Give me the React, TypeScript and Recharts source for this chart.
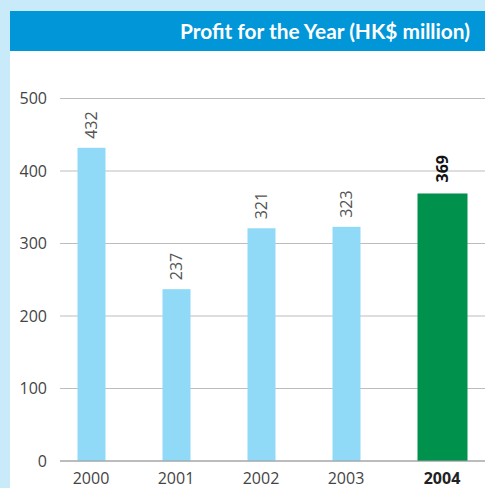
import { BarChart, Bar, XAxis, YAxis, CartesianGrid, Cell, LabelList } from "recharts";

const years = ["2000", "2001", "2002", "2003", "2004"];
const profits = [432, 237, 321, 323, 369];
const yTicks = [0, 100, 200, 300, 400, 500];
const highlightYear = "2004";

const data = years.map((year, i) => ({ year, profit: profits[i] }));

const FONT = "'Open Sans', Lato, sans-serif";
const SHIFT = 11;

function BarShape(props: any) {
  const { x, y, width, height, payload } = props;
  const hl = payload.year === highlightYear;
  const w = hl ? 50 : width;
  const cx = x + width / 2 + (hl ? SHIFT : 0);
  return <rect x={cx - w / 2} y={y} width={w} height={height} fill={hl ? "#00914d" : "#90d9f7"} />;
}

function ValueLabel(props: any) {
  const { x, y, width, value, index } = props;
  const hl = years[index] === highlightYear;
  const cx = x + width / 2 + (hl ? SHIFT : 0);
  const ty = y - (hl ? 11 : 9);
  return (
    <text
      x={cx}
      y={ty}
      transform={`rotate(-90 ${cx} ${ty})`}
      textAnchor="start"
      dominantBaseline="central"
      fontFamily={FONT}
      fontSize={16}
      fontWeight={hl ? 700 : 400}
      fill={hl ? "#111" : "#555"}
    >
      {value}
    </text>
  );
}

function YearTick(props: any) {
  const { x, y, payload } = props;
  const hl = payload.value === highlightYear;
  return (
    <text
      x={x + (hl ? SHIFT : 0)}
      y={y + 15}
      textAnchor="middle"
      fontFamily={FONT}
      fontSize={16}
      fontWeight={hl ? 700 : 400}
      fill={hl ? "#222" : "#444"}
    >
      {payload.value}
    </text>
  );
}

export default function App() {
  return (
    <div style={{ position: "fixed", left: 0, top: 0, width: 485, height: 488, background: "#c8eaf9", overflow: "hidden" }}>
      <div style={{ position: "absolute", left: 10, top: 11, width: 475, height: 477, background: "#fff" }} />
      <div style={{ position: "absolute", left: 10, top: 11, width: 475, height: 40, background: "#0096d8" }}>
        <svg width={475} height={40}>
          <text
            x={460}
            y={28}
            textAnchor="end"
            fontFamily="Lato, 'Open Sans', sans-serif"
            fontWeight={700}
            fontSize={21}
            fill="#fff"
            textLength={290}
            lengthAdjust="spacingAndGlyphs"
          >
            Profit for the Year (HK$ million)
          </text>
        </svg>
      </div>
      <div style={{ position: "absolute", left: 0, top: 0 }}>
        <BarChart width={485} height={488} data={data} margin={{ top: 98.5, right: 0, bottom: 0, left: 0 }}>
          <CartesianGrid vertical={false} stroke="#bdbdbd" />
          <XAxis
            dataKey="year"
            height={27}
            padding={{ left: -11.5, right: 11.5 }}
            axisLine={{ stroke: "#9a9a9a" }}
            tickLine={false}
            tick={<YearTick />}
            interval={0}
          />
          <YAxis
            width={60}
            domain={[0, 500]}
            ticks={yTicks}
            axisLine={false}
            tickLine={false}
            tickMargin={7}
            tick={{ fontFamily: FONT, fontSize: 16, fill: "#444" }}
          />
          <Bar dataKey="profit" barSize={28} shape={<BarShape />} isAnimationActive={false}>
            {data.map((d) => (
              <Cell key={d.year} />
            ))}
            <LabelList dataKey="profit" content={<ValueLabel />} />
          </Bar>
        </BarChart>
      </div>
    </div>
  );
}
